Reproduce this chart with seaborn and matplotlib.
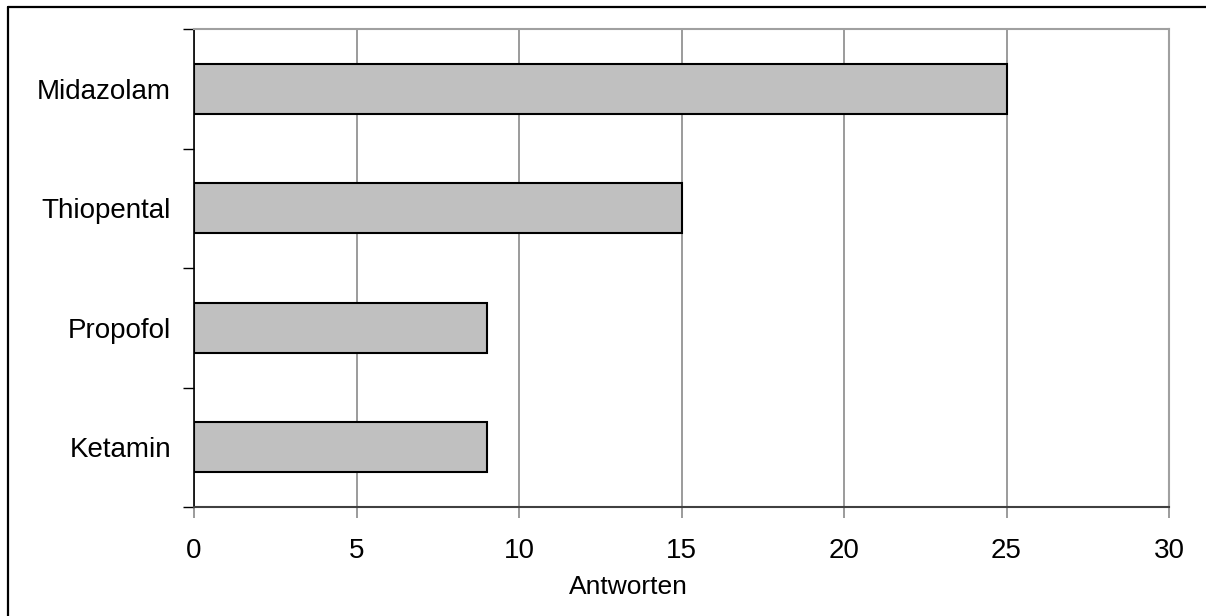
import matplotlib
matplotlib.use("Agg")
import matplotlib.pyplot as plt
import seaborn as sns
import pandas as pd
from matplotlib.lines import Line2D
from matplotlib.ticker import FixedLocator

categories = ["Midazolam", "Thiopental", "Propofol", "Ketamin"]
values = [25, 15, 9, 9]
x_ticks = [0, 5, 10, 15, 20, 25, 30]
x_label = "Antworten"

sns.set_theme(style="white")
plt.rcParams["font.family"] = ["Liberation Sans", "DejaVu Sans"]

W, H, DPI = 1206, 616, 100
fig = plt.figure(figsize=(W / DPI, H / DPI), dpi=DPI)
L, R, T, B = 194, 1169, 29, 507
ax = fig.add_axes([L / W, 1 - B / H, (R - L) / W, (B - T) / H])

df = pd.DataFrame({"drug": categories, "n": values})
sns.barplot(data=df, x="n", y="drug", orient="h", color="#C0C0C0",
            saturation=1, edgecolor="black", linewidth=1.5, width=0.42,
            ax=ax, zorder=3)

ax.set_xlim(0, 30)
ax.set_ylim(len(categories) - 0.5, -0.5)
ax.set_xticks(x_ticks)
ax.set_xticklabels([str(t) for t in x_ticks])
ax.grid(axis="x", color="#808080", linewidth=1.1, zorder=0)
ax.set_axisbelow(True)

ax.yaxis.set_minor_locator(FixedLocator([i - 0.5 for i in range(len(categories) + 1)]))
ax.tick_params(axis="y", which="major", length=0, pad=16.5, labelsize=20, labelcolor="black")
ax.tick_params(axis="y", which="minor", length=8, width=1, color="black", direction="out", left=True)
ax.tick_params(axis="x", which="major", length=8, width=1.1, color="#808080", direction="out",
               bottom=True, pad=14, labelsize=20, labelcolor="black")

for side, c, lw in [("left", "black", 1.2), ("bottom", "#404040", 1.5),
                    ("top", "#A0A0A0", 1.5), ("right", "#A0A0A0", 1.5)]:
    ax.spines[side].set_visible(True)
    ax.spines[side].set_color(c)
    ax.spines[side].set_linewidth(lw)

ax.set_ylabel("")
ax.set_xlabel(x_label, fontsize=19, color="black")
ax.xaxis.label.set_va("center")
ax.xaxis.set_label_coords((628 - L) / (R - L), -(587 - B) / (B - T))

bx, by = 8 / W, 1 - 7 / H
fig.add_artist(Line2D([bx, bx], [0, by], transform=fig.transFigure, color="black", linewidth=1.6))
fig.add_artist(Line2D([bx, 1], [by, by], transform=fig.transFigure, color="black", linewidth=1.6))

fig.savefig("out.png", dpi=DPI, facecolor="white")
